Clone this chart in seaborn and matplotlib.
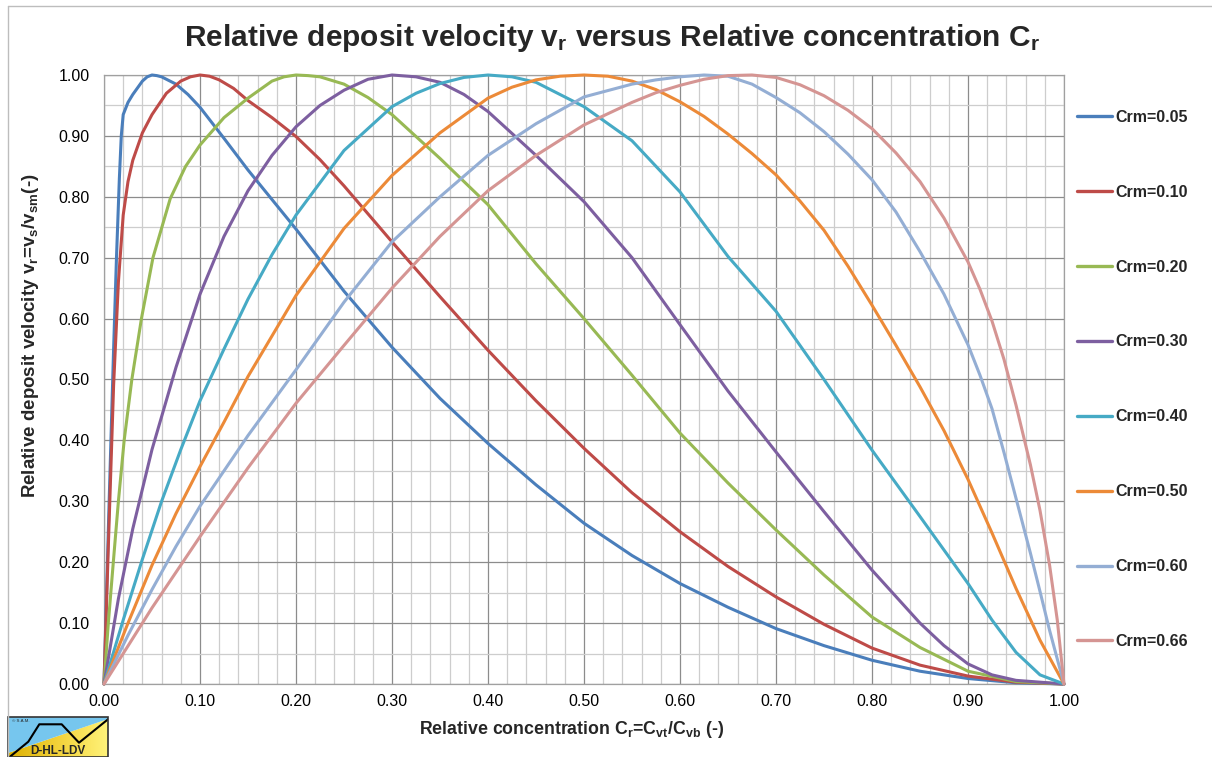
import numpy as np
import pandas as pd
import matplotlib
matplotlib.use("Agg")
import matplotlib.pyplot as plt
import seaborn as sns
from matplotlib.ticker import MultipleLocator, FormatStrFormatter
from matplotlib.patches import Polygon, Rectangle
from matplotlib.lines import Line2D
from matplotlib.colors import LinearSegmentedColormap

# ---------------- data ----------------
labels = ["Crm=0.05", "Crm=0.10", "Crm=0.20", "Crm=0.30",
          "Crm=0.40", "Crm=0.50", "Crm=0.60", "Crm=0.66"]

cr_005 = [0, 0.005, 0.01, 0.013, 0.016, 0.018, 0.02, 0.025, 0.03, 0.04, 0.045, 0.05, 0.055,
          0.06, 0.075, 0.0875, 0.1, 0.125, 0.15, 0.2, 0.25, 0.3, 0.35, 0.4, 0.45, 0.5, 0.55,
          0.6, 0.65, 0.7, 0.75, 0.8, 0.85, 0.9, 0.95, 1.0]
vr_005 = [0, 0.28, 0.55, 0.70, 0.83, 0.90, 0.935, 0.955, 0.968, 0.99, 0.997, 1.0, 0.999,
          0.997, 0.985, 0.968, 0.947, 0.896, 0.844, 0.747, 0.645, 0.553, 0.469, 0.395, 0.327,
          0.264, 0.211, 0.165, 0.126, 0.091, 0.063, 0.039, 0.021, 0.009, 0.002, 0]

cr_010 = [0, 0.005, 0.01, 0.015, 0.02, 0.025, 0.03, 0.04, 0.05, 0.065, 0.08, 0.09, 0.1,
          0.11, 0.12, 0.135, 0.15, 0.175, 0.2, 0.225, 0.25, 0.3, 0.35, 0.4, 0.45, 0.5, 0.55,
          0.6, 0.65, 0.7, 0.75, 0.8, 0.85, 0.9, 0.95, 1.0]
vr_010 = [0, 0.25, 0.49, 0.66, 0.77, 0.825, 0.86, 0.905, 0.935, 0.97, 0.99, 0.997, 1.0,
          0.998, 0.992, 0.978, 0.958, 0.93, 0.899, 0.861, 0.818, 0.726, 0.636, 0.548, 0.465,
          0.387, 0.314, 0.25, 0.193, 0.143, 0.098, 0.059, 0.031, 0.013, 0.003, 0]

cr_020 = [0, 0.0045, 0.0097, 0.015, 0.021, 0.029, 0.039, 0.051, 0.069, 0.085, 0.1, 0.125,
          0.15, 0.175, 0.1875, 0.2, 0.2125, 0.225, 0.25, 0.275, 0.3, 0.35, 0.4, 0.45, 0.5,
          0.55, 0.6, 0.65, 0.7, 0.75, 0.8, 0.85, 0.9, 0.95, 1.0]
vr_020 = [0, 0.1, 0.2, 0.3, 0.4, 0.5, 0.6, 0.7, 0.797, 0.85, 0.885, 0.93, 0.962, 0.99,
          0.997, 1.0, 0.999, 0.997, 0.985, 0.963, 0.935, 0.863, 0.787, 0.69, 0.6, 0.507,
          0.412, 0.33, 0.253, 0.179, 0.11, 0.06, 0.021, 0.004, 0]

cr_030 = [0, 0.015, 0.03, 0.05, 0.075, 0.1, 0.125, 0.15, 0.175, 0.2, 0.225, 0.25, 0.275,
          0.3, 0.325, 0.35, 0.375, 0.4, 0.45, 0.5, 0.55, 0.6, 0.65, 0.7, 0.75, 0.8, 0.85,
          0.875, 0.9, 0.925, 0.95, 1.0]
vr_030 = [0, 0.14, 0.255, 0.385, 0.52, 0.64, 0.735, 0.81, 0.868, 0.915, 0.95, 0.975, 0.993,
          1.0, 0.997, 0.988, 0.968, 0.94, 0.868, 0.792, 0.70, 0.59, 0.481, 0.381, 0.283,
          0.187, 0.1, 0.063, 0.033, 0.015, 0.006, 0]

cr_040 = [0, 0.02, 0.04, 0.06, 0.08, 0.1, 0.125, 0.15, 0.175, 0.2, 0.25, 0.3, 0.325, 0.35,
          0.375, 0.4, 0.425, 0.45, 0.5, 0.55, 0.6, 0.65, 0.7, 0.75, 0.8, 0.85, 0.9, 0.925,
          0.95, 0.975, 1.0]
vr_040 = [0, 0.105, 0.205, 0.30, 0.385, 0.465, 0.55, 0.632, 0.705, 0.77, 0.876, 0.948,
          0.97, 0.986, 0.996, 1.0, 0.997, 0.988, 0.948, 0.892, 0.808, 0.702, 0.612, 0.50,
          0.384, 0.275, 0.165, 0.105, 0.052, 0.015, 0]

cr_050 = [0, 0.025, 0.05, 0.075, 0.1, 0.125, 0.15, 0.2, 0.25, 0.3, 0.35, 0.4, 0.425, 0.45,
          0.475, 0.5, 0.525, 0.55, 0.575, 0.6, 0.625, 0.65, 0.675, 0.7, 0.725, 0.75, 0.775,
          0.8, 0.825, 0.85, 0.875, 0.9, 0.925, 0.95, 0.975, 1.0]
vr_050 = [0, 0.1, 0.195, 0.28, 0.357, 0.43, 0.505, 0.638, 0.748, 0.835, 0.905, 0.962, 0.98,
          0.992, 0.998, 1.0, 0.998, 0.99, 0.976, 0.956, 0.932, 0.903, 0.871, 0.836, 0.793,
          0.745, 0.686, 0.622, 0.556, 0.488, 0.416, 0.336, 0.248, 0.157, 0.072, 0]

cr_060 = [0, 0.025, 0.05, 0.075, 0.1, 0.15, 0.2, 0.25, 0.3, 0.35, 0.4, 0.45, 0.5, 0.55,
          0.575, 0.6, 0.625, 0.65, 0.675, 0.7, 0.725, 0.75, 0.775, 0.8, 0.825, 0.85, 0.875,
          0.9, 0.9125, 0.925, 0.9375, 0.95, 0.965, 0.975, 0.985, 1.0]
vr_060 = [0, 0.08, 0.155, 0.226, 0.292, 0.408, 0.516, 0.627, 0.726, 0.80, 0.868, 0.92,
          0.964, 0.985, 0.992, 0.997, 1.0, 0.998, 0.985, 0.963, 0.938, 0.907, 0.87, 0.828,
          0.775, 0.71, 0.64, 0.557, 0.507, 0.452, 0.38, 0.305, 0.215, 0.152, 0.088, 0]

cr_066 = [0, 0.05, 0.1, 0.15, 0.2, 0.25, 0.3, 0.35, 0.4, 0.45, 0.5, 0.55, 0.575, 0.6, 0.625,
          0.65, 0.675, 0.7, 0.725, 0.75, 0.775, 0.8, 0.825, 0.85, 0.875, 0.9, 0.9125, 0.925,
          0.9375, 0.95, 0.965, 0.975, 0.985, 0.993, 1.0]
vr_066 = [0, 0.125, 0.242, 0.355, 0.461, 0.556, 0.65, 0.735, 0.81, 0.868, 0.918, 0.955,
          0.971, 0.983, 0.993, 0.999, 1.0, 0.996, 0.984, 0.966, 0.942, 0.912, 0.872, 0.825,
          0.765, 0.693, 0.648, 0.596, 0.533, 0.458, 0.36, 0.285, 0.195, 0.105, 0]

series_cr = [cr_005, cr_010, cr_020, cr_030, cr_040, cr_050, cr_060, cr_066]
series_vr = [vr_005, vr_010, vr_020, vr_030, vr_040, vr_050, vr_060, vr_066]

colors = ["#4A7EBB", "#BE4B48", "#98B954", "#7D5FA0",
          "#46AAC5", "#EC8A38", "#94AED4", "#D59593"]

title = r"Relative deposit velocity v$_\mathbf{r}$ versus Relative concentration C$_\mathbf{r}$"
ylabel = r"Relative deposit velocity v$_\mathbf{r}$=v$_\mathbf{s}$/v$_\mathbf{sm}$(-)"
xlabel = r"Relative concentration C$_\mathbf{r}$=C$_\mathbf{vt}$/C$_\mathbf{vb}$ (-)"

# ---------------- style ----------------
sns.set_theme(style="white")
plt.rcParams["font.family"] = ["Liberation Sans", "DejaVu Sans"]
plt.rcParams["mathtext.fontset"] = "custom"
plt.rcParams["mathtext.rm"] = "Liberation Sans"
plt.rcParams["mathtext.bf"] = "Liberation Sans:bold"
plt.rcParams["mathtext.it"] = "Liberation Sans:italic"

rows = []
for lab, xs, vs in zip(labels, series_cr, series_vr):
    for a, b in zip(xs, vs):
        rows.append((lab, a, b))
df = pd.DataFrame(rows, columns=["series", "Cr", "vr"])

W, H = 1212, 757
fig = plt.figure(figsize=(W / 100, H / 100), dpi=100)
fig.patch.set_facecolor("white")
ax = fig.add_axes([104 / W, 1 - 684 / H, 960 / W, 609 / H])

sns.lineplot(data=df, x="Cr", y="vr", hue="series", hue_order=labels,
             palette=colors, estimator=None, sort=False, linewidth=2.2,
             ax=ax, legend=False)
for ln in ax.get_lines():
    ln.set_clip_on(False)
    ln.set_solid_capstyle("round")
    ln.set_solid_joinstyle("round")
    ln.set_zorder(3)

ax.set_xlim(0, 1)
ax.set_ylim(0, 1)
ax.xaxis.set_major_locator(MultipleLocator(0.1))
ax.xaxis.set_minor_locator(MultipleLocator(0.02))
ax.yaxis.set_major_locator(MultipleLocator(0.1))
ax.yaxis.set_minor_locator(MultipleLocator(0.05))
ax.xaxis.set_major_formatter(FormatStrFormatter("%.2f"))
ax.yaxis.set_major_formatter(FormatStrFormatter("%.2f"))
ax.set_axisbelow(True)
ax.grid(which="minor", color="#CDCDCD", linewidth=0.9)
ax.grid(which="major", color="#8C8C8C", linewidth=0.9)
ax.tick_params(which="both", length=0)
ax.tick_params(axis="y", labelsize=11.5, pad=10.5, labelcolor="black")
ax.tick_params(axis="x", labelsize=11.5, pad=7, labelcolor="black")
ax.set_xlabel("")
ax.set_ylabel("")
for sp in ax.spines.values():
    sp.set_color("#A0A0A0")
    sp.set_linewidth(0.9)

handles = [Line2D([], [], color=c, lw=2.4) for c in colors]
ax.legend(handles, labels, loc="center left",
          bbox_to_anchor=(1077 / W, 1 - 379.4 / H), bbox_transform=fig.transFigure,
          frameon=False, prop={"weight": "bold", "size": 11.5},
          labelspacing=3.75, handlelength=2.19, handletextpad=0.19,
          borderpad=0, borderaxespad=0)

fig.text(612 / W, 1 - 38 / H, title, ha="center", va="center",
         fontsize=21.5, fontweight="bold")
fig.text(31 / W, 1 - 336 / H, ylabel, rotation=90, ha="center", va="center",
         fontsize=13.5, fontweight="bold")
fig.text(572 / W, 1 - 729 / H, xlabel, ha="center", va="center",
         fontsize=12.8, fontweight="bold")

# chart-area border (left and top edges visible)
fig.add_artist(Line2D([7.5 / W, 7.5 / W], [0, 1 - 6 / H], transform=fig.transFigure,
                      color="#BDBDBD", lw=1.0))
fig.add_artist(Line2D([7.5 / W, 1], [1 - 6 / H, 1 - 6 / H], transform=fig.transFigure,
                      color="#BDBDBD", lw=1.0))

# logo
lax = fig.add_axes([8 / W, 0, 100 / W, 40 / H])
lax.set_xlim(0, 100)
lax.set_ylim(0, 40)
lax.axis("off")
cmap = LinearSegmentedColormap.from_list("ylw", ["#DDB000", "#F3D23A", "#FFF37A"])
grad = np.linspace(0, 1, 256).reshape(1, -1)
im = lax.imshow(grad, extent=[0, 100, 0, 40], aspect="auto", cmap=cmap, zorder=1)
ypoly = Polygon([(0, 0), (100, 0), (100, 38), (0, 4)], closed=True,
                transform=lax.transData, facecolor="none", edgecolor="none")
lax.add_patch(ypoly)
im.set_clip_path(ypoly)
lax.add_patch(Polygon([(0, 4), (100, 38), (100, 40), (0, 40)], closed=True,
                      facecolor="#76C6EE", edgecolor="none", zorder=2))
lax.add_line(Line2D([2, 20.3, 31.3, 53.7, 71, 100], [0.3, 15.3, 32.7, 32.7, 14.3, 37.7],
                    color="black", lw=1.5, zorder=3))
lax.add_patch(Rectangle((0, 0), 100, 40, fill=False, edgecolor="#333333", lw=1.2,
                        zorder=4, clip_on=False))
lax.text(50, 6.5, "D-HL-LDV", ha="center", va="center", fontsize=8.5,
         fontweight="bold", zorder=5)
lax.text(3.5, 35.5, "© S.A.M.", ha="left", va="center", fontsize=3.2, zorder=5)

fig.savefig("out.png", dpi=100, facecolor="white")
